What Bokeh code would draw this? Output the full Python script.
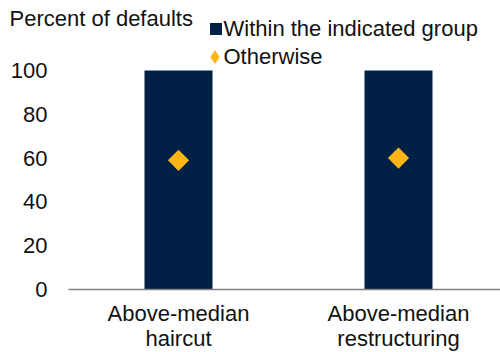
from math import pi

from bokeh.embed import file_html
from bokeh.models import (ColumnDataSource, FixedTicker, Label, Legend,
                          LegendItem, Range1d)
from bokeh.plotting import figure
from bokeh.resources import INLINE

# Data
categories = ["Above-median\nhaircut", "Above-median\nrestructuring"]
within_group = [100, 100]
otherwise = [59, 60]
y_ticks = [0, 20, 40, 60, 80, 100]

NAVY = "#002145"
GOLD = "#FDB515"
FONT = "Liberation Sans"
FS = "22px"
TXT = "#111111"

W, H = 500, 352
X0, Y0 = 68, 289          # pixel position of the axes' origin
PX_CAT = 220              # pixels per category
PX_PCT = 2.19             # pixels per percentage point

xpos = [i + 0.5 for i in range(len(categories))]
src = ColumnDataSource(dict(x=xpos, within=within_group, other=otherwise))

# the frame fills the whole canvas; both axes are pinned at the origin
p = figure(
    width=W, height=H,
    x_range=Range1d(-X0 / PX_CAT, (W - X0) / PX_CAT),
    y_range=Range1d(-(H - Y0) / PX_PCT, Y0 / PX_PCT),
    output_backend="svg", toolbar_location=None,
    min_border_left=0, min_border_right=0, min_border_top=0,
    min_border_bottom=0,
)
p.outline_line_color = None
p.xgrid.visible = False
p.ygrid.visible = False
p.background_fill_color = "white"

bars = p.vbar(x="x", top="within", width=68 / PX_CAT, bottom=0, source=src,
              fill_color=NAVY, line_color=None)
dots = p.scatter(x="x", y="other", source=src, marker="square", angle=pi / 4,
                 size=15, fill_color=GOLD, line_color=None)
# legend swatch for the diamonds (legend glyphs ignore marker angle)
dots_key = p.scatter(x="x", y="other", source=src, marker="diamond",
                     fill_color=GOLD, line_color=None, visible=False)


def legend(items, box, loc, standoff, spacing=0):
    lg = Legend(items=items, location=loc, orientation="vertical",
                glyph_width=box, glyph_height=box, label_standoff=standoff,
                padding=0, margin=0, spacing=spacing,
                border_line_color=None, background_fill_alpha=0,
                inactive_fill_alpha=0, click_policy="none",
                label_text_font=FONT, label_text_font_size=FS,
                label_text_color=TXT)
    p.add_layout(lg, "center")


# labels of both entries, with the bar swatch
legend([LegendItem(label="Within the indicated group", renderers=[bars]),
        LegendItem(label="Otherwise", renderers=[])],
       15, (207.5, H - 69.5), 1, spacing=2)
# diamond swatch for the second entry
legend([LegendItem(label=" ", renderers=[dots_key])], 35, (197, H - 73.5), 0)

# Axes
p.yaxis.fixed_location = 0
p.yaxis.ticker = FixedTicker(ticks=y_ticks)
p.yaxis.axis_line_color = None
p.yaxis.major_tick_line_color = None
p.yaxis.minor_tick_line_color = None
p.yaxis.major_tick_out = 0
p.yaxis.major_tick_in = 0
p.yaxis.major_label_standoff = 21
p.yaxis.major_label_text_font = FONT
p.yaxis.major_label_text_font_size = FS
p.yaxis.major_label_text_color = TXT

p.xaxis.fixed_location = 0
p.xaxis.ticker = FixedTicker(ticks=xpos)
p.xaxis.bounds = (0, (W - X0) / PX_CAT)
p.xaxis.major_label_overrides = {x: c for x, c in zip(xpos, categories)}
p.xaxis.axis_line_color = "#808080"
p.xaxis.axis_line_width = 1.5
p.xaxis.major_tick_line_color = None
p.xaxis.minor_tick_line_color = None
p.xaxis.major_tick_out = 0
p.xaxis.major_tick_in = 0
p.xaxis.major_label_standoff = 11
p.xaxis.major_label_text_font = FONT
p.xaxis.major_label_text_font_size = FS
p.xaxis.major_label_text_color = TXT
p.xaxis.major_label_text_line_height = 1.0

p.add_layout(Label(x=9, y=H - 18, x_units="screen", y_units="screen",
                   text="Percent of defaults", text_font=FONT,
                   text_font_size=FS, text_color=TXT,
                   text_baseline="middle"))

open("out.html", "w").write(file_html(p, INLINE))
